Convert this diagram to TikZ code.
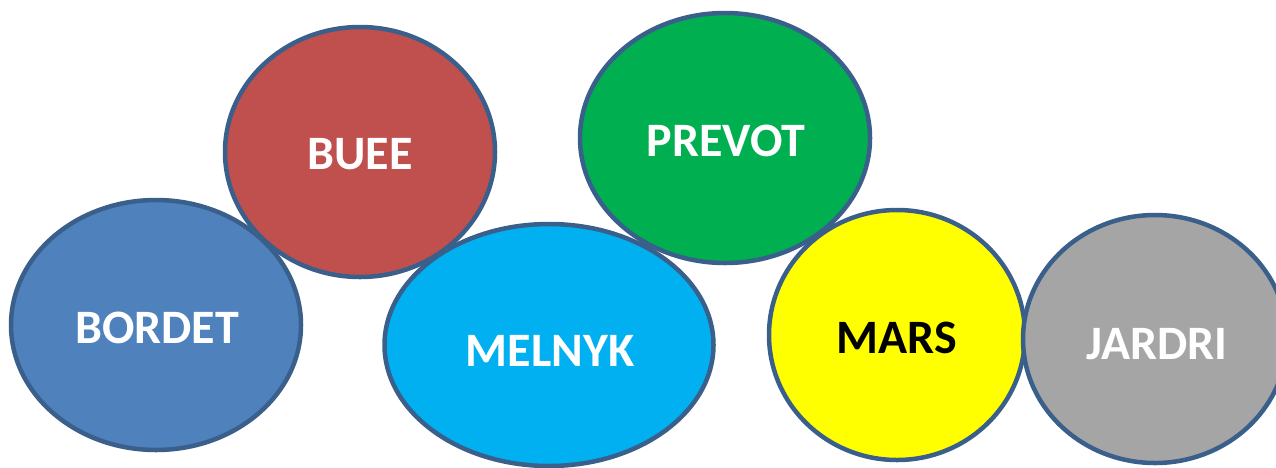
\documentclass[tikz,border=0pt]{standalone}
\usepackage{fontspec}
\setmainfont{Carlito}
\usetikzlibrary{shapes.geometric}
\definecolor{rim}{HTML}{3A5F8B}
\definecolor{cBordet}{HTML}{4F81BD}
\definecolor{cBuee}{HTML}{C0504D}
\definecolor{cMelnyk}{HTML}{00B0F0}
\definecolor{cPrevot}{HTML}{00B050}
\definecolor{cMars}{HTML}{FFFF00}
\definecolor{cJardri}{HTML}{A5A5A5}
\tikzset{
  blob/.style={ellipse, draw=rim, line width=4.5pt, inner sep=0pt},
  tag/.style={text=white, font=\fontsize{48}{48}\selectfont\bfseries},
}
\begin{document}
\begin{tikzpicture}[x=1pt,y=-1pt]
  \useasboundingbox (0,0) rectangle (1276,467);
  \clip (0,0) rectangle (1276,467);
  % each name sits in its own ellipse; later ellipses overlap earlier ones
  \node[blob, fill=cBordet, minimum width=290pt, minimum height=250pt] (bordet) at (156,325) {};
  \node[tag] (bordetname) at (157,328) {BORDET};
  \node[blob, fill=cBuee, minimum width=270pt, minimum height=250pt] (buee) at (360,152) {};
  \node[tag] (bueename) at (360,154) {BUEE};
  \node[blob, fill=cMelnyk, minimum width=329pt, minimum height=242pt] (melnyk) at (549,345) {};
  \node[tag] (melnykname) at (550,351) {MELNYK};
  \node[blob, fill=cPrevot, minimum width=290pt, minimum height=250pt] (prevot) at (725,138) {};
  \node[tag] (prevotname) at (726,141) {PREVOT};
  \node[blob, fill=cMars, minimum width=256pt, minimum height=250pt] (mars) at (897,335) {};
  \node[tag, text=black] (marsname) at (897,338) {MARS};
  \node[blob, fill=cJardri, minimum width=264pt, minimum height=248pt] (jardri) at (1155,339) {};
  \node[tag] (jardriname) at (1157,344) {JARDRI};
\end{tikzpicture}
\end{document}
